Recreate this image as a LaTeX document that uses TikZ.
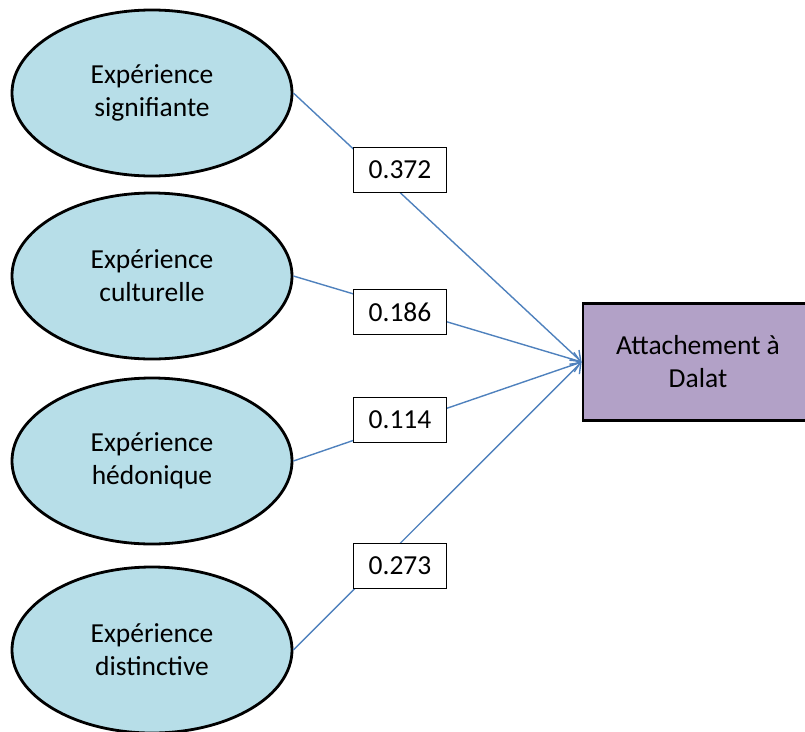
\documentclass[tikz,border=0pt]{standalone}
\usepackage{fontspec}
\setmainfont{Carlito}
\usetikzlibrary{shapes.geometric,arrows.meta}
\definecolor{ellfill}{HTML}{B7DEE8}
\definecolor{boxfill}{HTML}{B2A1C7}
\definecolor{linkcol}{HTML}{4F81BD}
\begin{document}
\begin{tikzpicture}[x=1pt,y=-1pt,
  font=\fontsize{27.5}{33}\selectfont,
  latent/.style={ellipse, draw=black, line width=2.8pt, fill=ellfill,
    minimum width=280pt, minimum height=166pt, align=center, inner sep=0pt},
  target/.style={rectangle, draw=black, line width=2.8pt, fill=boxfill,
    minimum width=230pt, minimum height=117pt, align=center},
  coef/.style={rectangle, draw=black, line width=1.3pt, fill=white,
    minimum width=93pt, minimum height=45pt, inner sep=0pt},
  link/.style={draw=linkcol, line width=1.4pt,
    -{Straight Barb[length=9pt,width=14pt]}}]
\useasboundingbox (0,0) rectangle (805,731);
\node[latent] (e1) at (152,93) {Expérience\\signifiante};
\node[latent] (e2) at (152,276) {Expérience\\culturelle};
\node[latent] (e3) at (152,461) {Expérience\\hédonique};
\node[latent] (e4) at (152,650) {Expérience\\distinctive};
\node[target] (t) at (698,362) {Attachement à\\Dalat};
\draw[link] (e1.east) -- (t.west);
\draw[link] (e2.east) -- (t.west);
\draw[link] (e3.east) -- (t.west);
\draw[link] (e4.east) -- (t.west);
\node[coef] (c1) at (400,170) {0.372};
\node[coef] (c2) at (400,312) {0.186};
\node[coef] (c3) at (400,420) {0.114};
\node[coef] (c4) at (400,566) {0.273};
\end{tikzpicture}
\end{document}
